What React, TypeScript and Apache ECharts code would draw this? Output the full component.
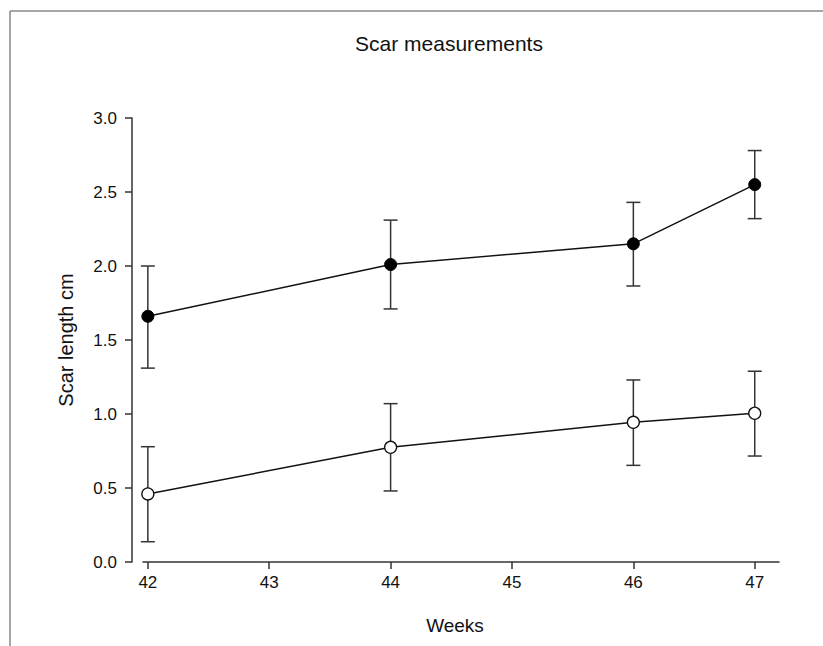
import React, { useEffect, useRef } from "react";
import * as echarts from "echarts";

const weeks = [42, 44, 46, 47];
const xTicks = [42, 43, 44, 45, 46, 47];
const filledMean = [1.66, 2.01, 2.15, 2.55];
const filledLow = [1.31, 1.71, 1.865, 2.32];
const filledHigh = [2.0, 2.31, 2.43, 2.78];
const openMean = [0.46, 0.775, 0.944, 1.005];
const openLow = [0.137, 0.48, 0.653, 0.716];
const openHigh = [0.779, 1.07, 1.23, 1.289];

const FONT = "Liberation Sans, Arial, sans-serif";

function errorSeries(low: number[], high: number[]) {
  return {
    type: "custom",
    z: 1,
    silent: true,
    data: weeks.map((w, i) => [w, low[i], high[i]]),
    renderItem: (params: any, api: any) => {
      const x = api.value(0);
      const lo = api.coord([x, api.value(1)]);
      const hi = api.coord([x, api.value(2)]);
      const hw = 7;
      const style = { stroke: "#333", lineWidth: 1.5 };
      return {
        type: "group",
        children: [
          { type: "line", shape: { x1: lo[0], y1: lo[1], x2: hi[0], y2: hi[1] }, style },
          { type: "line", shape: { x1: lo[0] - hw, y1: lo[1], x2: lo[0] + hw, y2: lo[1] }, style },
          { type: "line", shape: { x1: hi[0] - hw, y1: hi[1], x2: hi[0] + hw, y2: hi[1] }, style },
        ],
      };
    },
  };
}

export default function App() {
  const ref = useRef<HTMLDivElement>(null);
  useEffect(() => {
    if (!ref.current) return;
    const chart = echarts.init(ref.current, undefined, { renderer: "svg" });
    chart.setOption({
      animation: false,
      backgroundColor: "#fff",
      textStyle: { fontFamily: FONT },
      title: {
        text: "Scar measurements",
        left: 444,
        top: 28,
        textAlign: "center",
        textStyle: { fontFamily: FONT, fontSize: 21, fontWeight: "normal", color: "#111" },
      },
      grid: { left: 143, top: 118, width: 636, height: 444, containLabel: false },
      xAxis: {
        type: "value",
        min: 41.96,
        max: 47.2,
        splitLine: { show: false },
        axisLine: { show: true, onZero: false, lineStyle: { color: "#333", width: 1.5 } },
        axisTick: { show: true, inside: false, length: 7, customValues: xTicks, lineStyle: { color: "#333", width: 1.5 } },
        axisLabel: { customValues: xTicks, margin: 12, fontSize: 17, color: "#111", fontFamily: FONT },
      },
      yAxis: {
        type: "value",
        min: 0,
        max: 3,
        interval: 0.5,
        offset: 11,
        splitLine: { show: false },
        axisLine: { show: true, lineStyle: { color: "#333", width: 1.5 } },
        axisTick: { show: true, inside: false, length: 7, lineStyle: { color: "#333", width: 1.5 } },
        axisLabel: { margin: 15, fontSize: 17, color: "#111", fontFamily: FONT, formatter: (v: number) => v.toFixed(1) },
      },
      graphic: [
        { type: "line", shape: { x1: 10, y1: 11, x2: 823, y2: 11 }, style: { stroke: "#888", lineWidth: 1.5 } },
        { type: "line", shape: { x1: 10, y1: 11, x2: 10, y2: 646 }, style: { stroke: "#888", lineWidth: 1.5 } },
        {
          type: "text",
          x: 66,
          y: 340,
          rotation: Math.PI / 2,
          style: { text: "Scar length cm", font: `20px ${FONT}`, fill: "#111", textAlign: "center", textVerticalAlign: "middle" },
        },
        {
          type: "text",
          x: 455,
          y: 625,
          style: { text: "Weeks", font: `19px ${FONT}`, fill: "#111", textAlign: "center", textVerticalAlign: "middle" },
        },
      ],
      series: [
        errorSeries(filledLow, filledHigh),
        errorSeries(openLow, openHigh),
        {
          type: "line",
          z: 3,
          data: weeks.map((w, i) => [w, filledMean[i]]),
          symbol: "circle",
          symbolSize: 12,
          lineStyle: { color: "#111", width: 1.5 },
          itemStyle: { color: "#000", borderColor: "#000", borderWidth: 1 },
        },
        {
          type: "line",
          z: 3,
          data: weeks.map((w, i) => [w, openMean[i]]),
          symbol: "circle",
          symbolSize: 12,
          lineStyle: { color: "#111", width: 1.5 },
          itemStyle: { color: "#fff", borderColor: "#111", borderWidth: 1.3 },
        },
      ],
    });
    return () => chart.dispose();
  }, []);
  return <div ref={ref} style={{ position: "absolute", left: 0, top: 0, width: 823, height: 646 }} />;
}
